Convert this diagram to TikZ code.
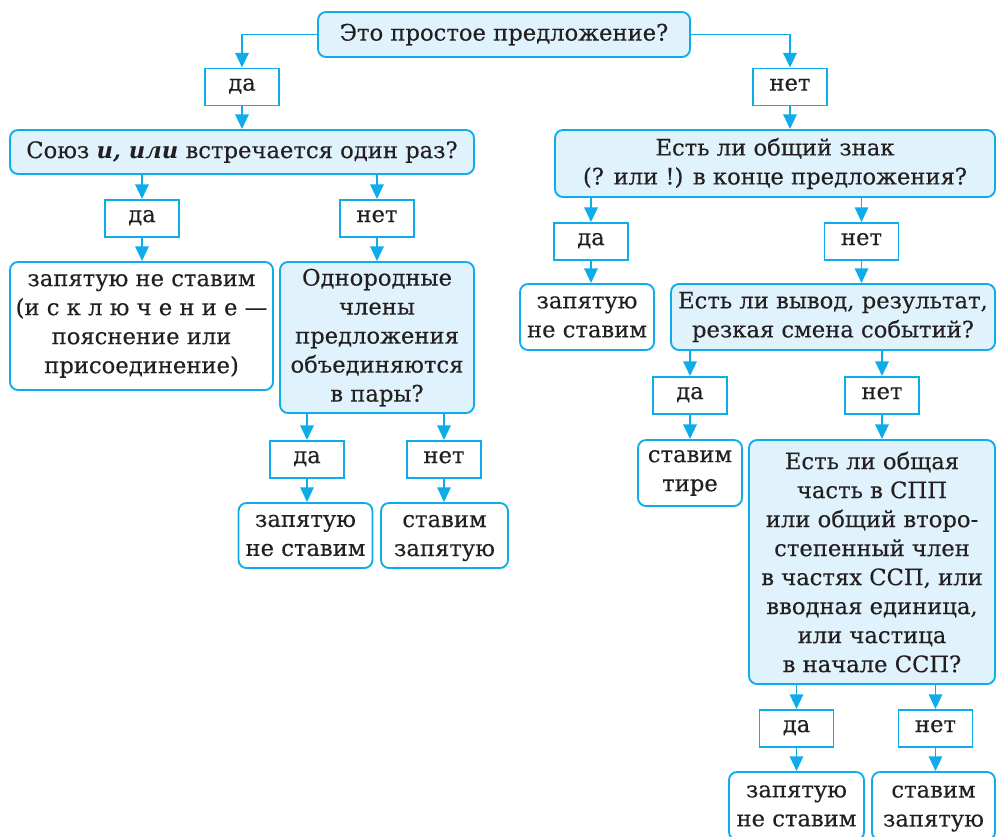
\documentclass[tikz,border=0pt]{standalone}
\usepackage{fontspec}
\setmainfont{DejaVu Serif}[UprightFeatures={FakeBold=0.3}]
\usetikzlibrary{arrows.meta}

\definecolor{lineblue}{RGB}{14,172,234}
\definecolor{fillblue}{RGB}{224,242,251}
\definecolor{inkgray}{RGB}{35,31,32}

\tikzset{every picture/.style={line width=1.4pt}}
\tikzset{
  question/.style={draw=lineblue, fill=fillblue, rounded corners=6pt, align=center,
    inner sep=0pt, text=inkgray, font=\fontsize{17}{21.75}\selectfont},
  answer/.style={question, fill=white},
  yesno/.style={draw=lineblue, fill=white, inner sep=0pt, minimum width=55.5pt,
    minimum height=27.75pt, text height=0.72em, text depth=0.18em, text=inkgray,
    font=\fontsize{17}{21.75}\selectfont},
  flow/.style={draw=lineblue, -{Triangle[width=10pt,length=11pt]}}
}

\begin{document}
\begin{tikzpicture}[x=0.75pt,y=0.75pt,yscale=-1,xscale=1]
	\clip (0,0) rectangle (996,836);

	%Top question
	\node[question, minimum width=279pt, minimum height=33.75pt] (start) at (504,34.5) {Это простое предложение?};
	\node[yesno] (yes1) at (242,87) {да};
	\node[yesno] (no1) at (790,87) {нет};

	%Left branch
	\node[question, minimum width=348pt, minimum height=33pt] (union) at (242,152) {Союз \textbf{\textit{и, или}} встречается один раз?};
	\node[yesno] (yes2) at (142,218.5) {да};
	\node[yesno] (no2) at (377,218.5) {нет};
	\node[answer, minimum width=197.25pt, minimum height=96pt] (except) at (141.5,326) {запятую не ставим\\(и с к л ю ч е н и е —\\пояснение или\\присоединение)};
	\node[question, minimum width=145.5pt, minimum height=113.25pt] (pairs) at (377,337.5) {Однородные\\члены\\предложения\\объединяются\\в пары?};
	\node[yesno] (yes3) at (307,459.5) {да};
	\node[yesno] (no3) at (444,459.5) {нет};
	\node[answer, minimum width=100.5pt, minimum height=48.75pt] (nocomma1) at (305.5,535.5) {запятую\\не ставим};
	\node[answer, minimum width=95.25pt, minimum height=48.75pt, text depth=0pt] (comma1) at (444.5,535.5) {ставим\\запятую};

	%Right branch
	\node[question, minimum width=330pt, minimum height=50.25pt] (mark) at (775,163.5) {Есть ли общий знак\\(? или !) в конце предложения?};
	\node[yesno] (yes4) at (591,241.5) {да};
	\node[yesno] (no4) at (861.5,241.5) {нет};
	\node[answer, minimum width=100.5pt, minimum height=49.5pt] (nocomma2) at (587,317) {запятую\\не ставим};
	\node[question, minimum width=243pt, minimum height=49.5pt] (result) at (833,317) {Есть ли вывод, результат,\\резкая смена событий?};
	\node[yesno] (yes5) at (690,395.5) {да};
	\node[yesno] (no5) at (882,395.5) {нет};
	\node[answer, minimum width=78pt, minimum height=49.5pt] (dash) at (690,473) {ставим\\тире};
	\node[question, minimum width=184.5pt, minimum height=183pt] (common) at (872,562) {Есть ли общая\\часть в СПП\\или общий второ-\\степенный член\\в частях ССП, или\\вводная единица,\\или частица\\в начале ССП?};
	\node[yesno] (yes6) at (796.5,728.5) {да};
	\node[yesno] (no6) at (935.5,728.5) {нет};
	\node[answer, minimum width=101.25pt, minimum height=51pt] (nocomma3) at (796.5,806) {запятую\\не ставим};
	\node[answer, minimum width=92.25pt, minimum height=51pt, text depth=0pt] (comma3) at (933.5,806) {ставим\\запятую};

	%Arrows
	\draw[flow] (start.west) -| (yes1.north);
	\draw[flow] (start.east) -| (no1.north);
	\draw[flow] (yes1.south) -- (yes1.south |- union.north);
	\draw[flow] (no1.south) -- (no1.south |- mark.north);

	\draw[flow] (union.south -| yes2) -- (yes2.north);
	\draw[flow] (union.south -| no2) -- (no2.north);
	\draw[flow] (yes2.south) -- (yes2.south |- except.north);
	\draw[flow] (no2.south) -- (no2.south |- pairs.north);
	\draw[flow] (pairs.south -| yes3) -- (yes3.north);
	\draw[flow] (pairs.south -| no3) -- (no3.north);
	\draw[flow] (yes3.south) -- (yes3.south |- nocomma1.north);
	\draw[flow] (no3.south) -- (no3.south |- comma1.north);

	\draw[flow] (mark.south -| yes4) -- (yes4.north);
	\draw[flow] (mark.south -| no4) -- (no4.north);
	\draw[flow] (yes4.south) -- (yes4.south |- nocomma2.north);
	\draw[flow] (no4.south) -- (no4.south |- result.north);
	\draw[flow] (result.south -| yes5) -- (yes5.north);
	\draw[flow] (result.south -| no5) -- (no5.north);
	\draw[flow] (yes5.south) -- (yes5.south |- dash.north);
	\draw[flow] (no5.south) -- (no5.south |- common.north);
	\draw[flow] (common.south -| yes6) -- (yes6.north);
	\draw[flow] (common.south -| no6) -- (no6.north);
	\draw[flow] (yes6.south) -- (yes6.south |- nocomma3.north);
	\draw[flow] (no6.south) -- (no6.south |- comma3.north);

\end{tikzpicture}
\end{document}
